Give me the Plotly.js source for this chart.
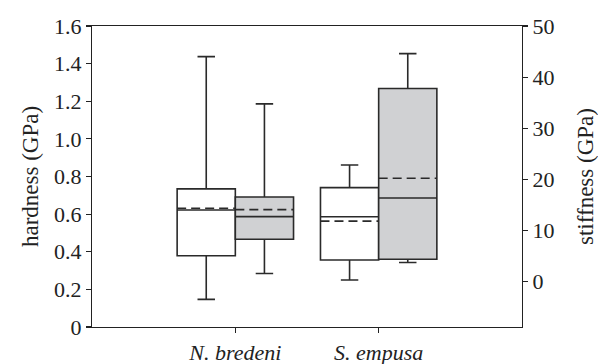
<!DOCTYPE html>
<html><head><meta charset="utf-8">
<script src="https://cdn.plot.ly/plotly-3.0.1.min.js"></script>
<style>html,body{margin:0;padding:0;background:#fff}
.boxlayer .mean{stroke-dasharray:9px,5px !important;}</style>
</head><body><div id="chart" style="width:598px;height:364px"></div>
<script>
const species = ['N. bredeni', 'S. empusa'];
// hardness (GPa), left axis, white boxes
const hardnessLower = [0.147, 0.250];
const hardnessQ1 = [0.379, 0.356];
const hardnessMedian = [0.622, 0.586];
const hardnessMean = [0.631, 0.563];
const hardnessQ3 = [0.734, 0.741];
const hardnessUpper = [1.437, 0.861];
// stiffness (GPa), right axis, grey boxes
const stiffLower = [1.56, 3.71];
const stiffQ1 = [8.28, 4.37];
const stiffMedian = [12.7, 16.35];
const stiffMean = [14.06, 20.2];
const stiffQ3 = [16.54, 37.77];
const stiffUpper = [34.77, 44.6];
const hardTickVals = [0, 0.2, 0.4, 0.6, 0.8, 1.0, 1.2, 1.4, 1.6];
const hardTickText = ['0', '0.2', '0.4', '0.6', '0.8', '1.0', '1.2', '1.4', '1.6'];

const half = 0.203;
const catPos = species.map((s, i) => i);
const fam = 'Liberation Serif, Times New Roman, serif';
const tickFont = {family: fam, size: 22, color: '#222'};
const titleFont = {family: fam, size: 23, color: '#222'};

const traces = [
  {type: 'box', name: 'hardness', x: catPos.map(p => p - half), yaxis: 'y',
   q1: hardnessQ1, median: hardnessMedian, q3: hardnessQ3, mean: hardnessMean,
   lowerfence: hardnessLower, upperfence: hardnessUpper, boxmean: true, boxpoints: false,
   width: 2 * half, whiskerwidth: 0.3, fillcolor: '#ffffff',
   line: {color: '#2a2a2a', width: 1.6}, hoverinfo: 'none'},
  {type: 'box', name: 'stiffness', x: catPos.map(p => p + half), yaxis: 'y2',
   q1: stiffQ1, median: stiffMedian, q3: stiffQ3, mean: stiffMean,
   lowerfence: stiffLower, upperfence: stiffUpper, boxmean: true, boxpoints: false,
   width: 2 * half, whiskerwidth: 0.3, fillcolor: '#d0d1d3',
   line: {color: '#2a2a2a', width: 1.6}, hoverinfo: 'none'}
];

const layout = {
  width: 598, height: 364,
  margin: {l: 92, r: 76, t: 26, b: 37},
  paper_bgcolor: '#fff', plot_bgcolor: '#fff',
  showlegend: false,
  font: tickFont,
  xaxis: {range: [-1, 2], tickvals: catPos, ticktext: species,
    tickfont: {family: fam, size: 22, color: '#222', style: 'italic'},
    ticks: 'outside', ticklen: 5, tickcolor: '#222', tickwidth: 1.2,
    showline: true, linecolor: '#222', linewidth: 1.2, mirror: true,
    showgrid: false, zeroline: false},
  yaxis: {range: [0, 1.6], tickvals: hardTickVals, ticktext: hardTickText,
    tickfont: tickFont,
    ticks: 'outside', ticklen: 5, tickcolor: '#222', tickwidth: 1.2,
    showline: true, linecolor: '#222', linewidth: 1.2,
    showgrid: false, zeroline: false,
    title: {text: 'hardness (GPa)', font: titleFont, standoff: 8}},
  yaxis2: {overlaying: 'y', side: 'right', range: [-8.9, 50], tick0: 0, dtick: 10,
    tickfont: tickFont,
    ticks: 'outside', ticklen: 5, tickcolor: '#222', tickwidth: 1.2,
    showline: true, linecolor: '#222', linewidth: 1.2,
    showgrid: false, zeroline: false,
    title: {text: 'stiffness (GPa)', font: titleFont, standoff: 23}}
};

Plotly.newPlot('chart', traces, layout, {displayModeBar: false, staticPlot: true});
</script>
</body></html>
